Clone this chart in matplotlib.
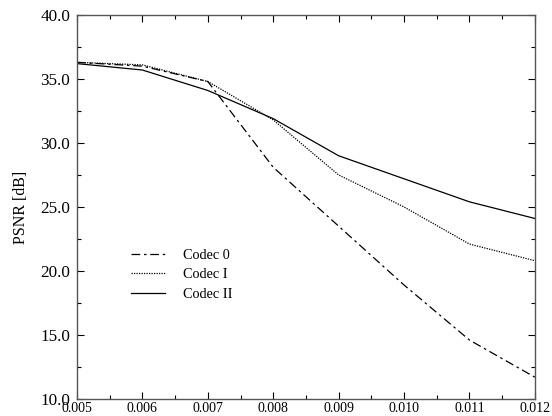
import matplotlib
matplotlib.use("Agg")
import matplotlib.pyplot as plt
from matplotlib.ticker import MultipleLocator, FormatStrFormatter

x = [0.005, 0.006, 0.007, 0.008, 0.009, 0.010, 0.011, 0.012]
codec0 = [36.3, 36.0, 34.8, 28.1, 23.5, 18.9, 14.6, 11.7]
codec1 = [36.3, 36.1, 34.8, 31.8, 27.5, 25.0, 22.1, 20.8]
codec2 = [36.2, 35.7, 34.1, 31.9, 29.0, 27.2, 25.4, 24.1]
labels = ["Codec 0", "Codec I", "Codec II"]

plt.rcParams['font.family'] = ['Liberation Serif', 'DejaVu Serif']
fig = plt.figure(figsize=(5.52, 4.16), dpi=100)
ax = fig.add_axes([0.1395, 0.041, 0.8295, 0.923])

ax.plot(x, codec0, color='black', lw=0.9, linestyle=(0, (7, 3, 2, 3)), label=labels[0])
ax.plot(x, codec1, color='black', lw=0.9, linestyle=(0, (1, 1)), label=labels[1])
ax.plot(x, codec2, color='black', lw=0.9, linestyle='-', label=labels[2])

ax.set_xlim(0.005, 0.012)
ax.set_ylim(10, 40)
ax.xaxis.set_major_locator(MultipleLocator(0.001))
ax.xaxis.set_minor_locator(MultipleLocator(0.0005))
ax.yaxis.set_major_locator(MultipleLocator(5))
ax.yaxis.set_minor_locator(MultipleLocator(2.5))
ax.xaxis.set_major_formatter(FormatStrFormatter('%.3f'))
ax.yaxis.set_major_formatter(FormatStrFormatter('%.1f'))
ax.tick_params(which='both', direction='in', top=True, right=True)
ax.tick_params(which='major', length=5, width=0.8)
ax.tick_params(which='minor', length=3, width=0.8)
ax.tick_params(axis='x', pad=2, labelsize=10)
ax.tick_params(axis='y', pad=5, labelsize=12.3)
for s in ax.spines.values():
    s.set_linewidth(1.0)
    s.set_color('#555555')
ax.set_ylabel('PSNR [dB]', fontsize=11.5, labelpad=8)

ax.legend(loc='upper left', bbox_to_anchor=(0.09, 0.425), frameon=False, fontsize=10.3,
          handlelength=2.4, handletextpad=1.2, labelspacing=0.45)

fig.savefig('out.png', dpi=100)
